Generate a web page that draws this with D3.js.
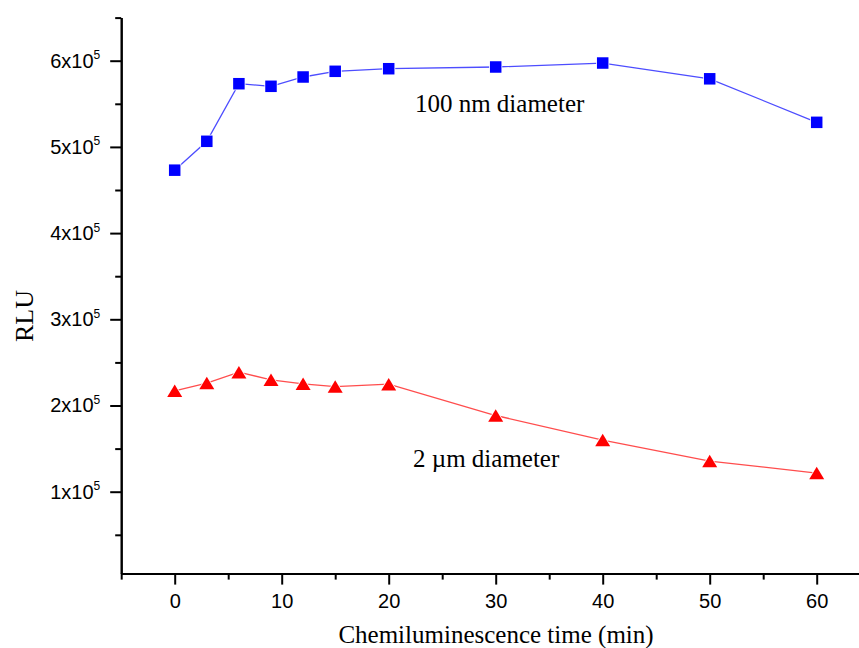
<!DOCTYPE html>
<html>
<head>
<meta charset="utf-8">
<script src="https://cdn.jsdelivr.net/npm/d3@7"></script>
<style>
  html, body { margin: 0; padding: 0; background: #fff; }
  svg { display: block; }
</style>
</head>
<body>
<svg id="chart" width="859" height="648"></svg>
<script>
// Sampling times (min)
const times = [0, 3, 6, 9, 12, 15, 20, 30, 40, 50, 60];
// Relative light units for the two particle sizes
const rlu100nm = [473000, 506500, 573300, 570300, 581100, 587700, 590700, 592700, 597300, 579000, 528500];
const rlu2um   = [217000, 226000, 238700, 229800, 225200, 222000, 224800, 188400, 159900, 135500, 121600];
// Axis ticks
const xTicks = [0, 10, 20, 30, 40, 50, 60];
const xMinor = [-5, 5, 15, 25, 35, 45, 55, 65];
const yTicks = [100000, 200000, 300000, 400000, 500000, 600000];
const yMinor = [50000, 150000, 250000, 350000, 450000, 550000, 650000];
// Curve annotations
const labels = [
  { text: "100 nm diameter", t: 22.45, v: 540500 },
  { text: "2 \u00b5m diameter", t: 22.27, v: 129000 }
];

const svg = d3.select("#chart");
const x = d3.scaleLinear().domain([-5, 65]).range([121.2, 870.2]);
const y = d3.scaleLinear().domain([5000, 650000]).range([573.6, 17.6]);

// Series lines
const line = d3.line().x((d, i) => x(times[i])).y(d => y(d));
svg.append("path").datum(rlu100nm).attr("d", line)
  .attr("fill", "none").attr("stroke", "#4d4dff").attr("stroke-width", 1.3);
svg.append("path").datum(rlu2um).attr("d", line)
  .attr("fill", "none").attr("stroke", "#ff4d4d").attr("stroke-width", 1.3);

// Square markers (with a thin white rim so the line stops short of them)
const sq = 11.5;
svg.append("g").selectAll("rect").data(rlu100nm).join("rect")
  .attr("x", (d, i) => x(times[i]) - sq / 2)
  .attr("y", d => y(d) - sq / 2)
  .attr("width", sq).attr("height", sq)
  .attr("fill", "#0000ff").attr("stroke", "#fff").attr("stroke-width", 1.6)
  .attr("paint-order", "stroke");

// Triangle markers
const tw = 15, th = 12.5;
svg.append("g").selectAll("path").data(rlu2um).join("path")
  .attr("d", (d, i) => {
    const cx = x(times[i]), cy = y(d);
    return `M${cx},${cy - th / 2}L${cx + tw / 2},${cy + th / 2}L${cx - tw / 2},${cy + th / 2}Z`;
  })
  .attr("fill", "#ff0000").attr("stroke", "#fff").attr("stroke-width", 1.6)
  .attr("paint-order", "stroke");

// Axes
const axisStroke = 2;
const xAxisY = y.range()[0];
const gx = svg.append("g").attr("transform", `translate(0,${xAxisY})`)
  .call(d3.axisBottom(x).tickValues(xTicks).tickSize(11).tickPadding(9).tickSizeOuter(0));
const gxMinor = svg.append("g").attr("transform", `translate(0,${xAxisY})`)
  .call(d3.axisBottom(x).tickValues(xMinor).tickSize(6).tickFormat(() => "").tickSizeOuter(0));
const gy = svg.append("g").attr("transform", `translate(${x.range()[0]},0)`)
  .call(d3.axisLeft(y).tickValues(yTicks).tickSize(11).tickPadding(10).tickSizeOuter(0));
const gyMinor = svg.append("g").attr("transform", `translate(${x.range()[0]},0)`)
  .call(d3.axisLeft(y).tickValues(yMinor).tickSize(6).tickFormat(() => "").tickSizeOuter(0));

[gx, gxMinor, gy, gyMinor].forEach(g => {
  g.selectAll("path.domain").attr("stroke", "#000").attr("stroke-width", axisStroke);
  g.selectAll(".tick line").attr("stroke", "#000").attr("stroke-width", axisStroke);
});

gx.selectAll(".tick text")
  .attr("font-family", "'Liberation Sans', Arial, sans-serif")
  .attr("font-size", 20).attr("fill", "#000");

// Y tick labels as "Nx10^5"
gy.selectAll(".tick text")
  .attr("font-family", "'Liberation Sans', Arial, sans-serif")
  .attr("font-size", 20).attr("fill", "#000")
  .each(function(d) {
    const t = d3.select(this);
    t.text(null);
    t.append("tspan").text(`${d / 100000}x10`);
    t.append("tspan").attr("dy", -8.5).attr("font-size", 12).text("5");
  });

// Axis titles
svg.append("text")
  .attr("x", 496).attr("y", 643)
  .attr("text-anchor", "middle")
  .attr("font-family", "'Liberation Serif', 'Times New Roman', serif")
  .attr("font-size", 25).attr("fill", "#000")
  .text("Chemiluminescence time (min)");

svg.append("text")
  .attr("transform", "translate(33,316) rotate(-90)")
  .attr("text-anchor", "middle")
  .attr("font-family", "'Liberation Serif', 'Times New Roman', serif")
  .attr("font-size", 26).attr("fill", "#000")
  .text("RLU");

// Curve annotations
svg.append("g").selectAll("text").data(labels).join("text")
  .attr("x", d => x(d.t)).attr("y", d => y(d.v))
  .attr("font-family", "'Liberation Serif', 'Times New Roman', serif")
  .attr("font-size", 25).attr("fill", "#000")
  .text(d => d.text);
</script>
</body>
</html>
